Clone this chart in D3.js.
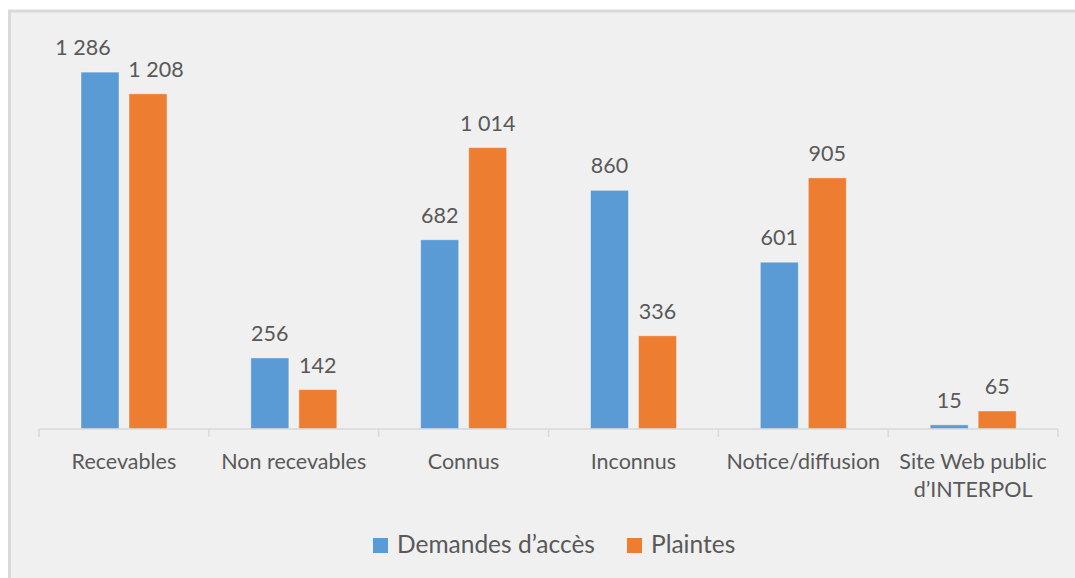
<!DOCTYPE html>
<html>
<head>
<meta charset="utf-8">
<script src="https://cdn.jsdelivr.net/npm/d3@7"></script>
<style>
  html, body { margin: 0; padding: 0; background: #ffffff; }
  svg { display: block; }
  text { font-family: Lato, "Noto Sans", sans-serif; fill: #595959; }
</style>
</head>
<body>
<div id="chart"></div>
<script>
// Data.
const categories = ["Recevables", "Non recevables", "Connus", "Inconnus", "Notice/diffusion", "Site Web public\nd\u2019INTERPOL"];
const series = ["Demandes d\u2019acc\u00e8s", "Plaintes"];
const demandes = [1286, 256, 682, 860, 601, 15];
const plaintes = [1208, 142, 1014, 336, 905, 65];
const colors = ["#5B9BD5", "#ED7D31"];

const width = 1075, height = 578;
const fmt = d => d3.format(",")(d).replace(/,/g, " ");

var svg = d3.select("#chart")
    .append("svg")
    .attr("width", width)
    .attr("height", height);

// Chart area with its grey frame.
svg.append("rect")
    .attr("x", 9.5).attr("y", 11)
    .attr("width", width + 10).attr("height", height + 10)
    .attr("fill", "#F0F0F0")
    .attr("stroke", "#D9D9D9")
    .attr("stroke-width", 3);

var xScale = d3.scaleBand()
    .domain(categories)
    .range([39, 1058])
    .padding(0);

// Position of the two bars inside one category.
var x1 = d3.scaleBand()
    .domain(series)
    .range([42, 128])
    .paddingInner(10 / 48);

var yScale = d3.scaleLinear()
    .domain([0, 1400])
    .range([429, 40.5]);

var rows = categories.map((c, i) => ({cat: c, vals: [demandes[i], plaintes[i]]}));

// Bars.
var groups = svg.append("g").selectAll("g")
    .data(rows)
    .enter().append("g")
    .attr("transform", d => "translate(" + xScale(d.cat) + ",0)");

groups.selectAll("rect")
    .data(d => d.vals.map((v, j) => ({s: series[j], v: v, j: j})))
    .enter().append("rect")
    .attr("x", d => x1(d.s))
    .attr("y", d => yScale(d.v))
    .attr("width", x1.bandwidth())
    .attr("height", d => yScale(0) - yScale(d.v))
    .attr("fill", d => colors[d.j])
    .attr("stroke", "#ffffff")
    .attr("stroke-opacity", 0.4)
    .attr("stroke-width", 1);

// Value labels; the first group's labels were pulled apart by hand in the original.
const labelNudge = {"Recevables": [-17, 8]};
groups.selectAll("text.val")
    .data(d => d.vals.map((v, j) => ({s: series[j], v: v, j: j, cat: d.cat})))
    .enter().append("text")
    .attr("class", "val")
    .attr("x", d => x1(d.s) + x1.bandwidth() / 2 + (labelNudge[d.cat] ? labelNudge[d.cat][d.j] : 0))
    .attr("y", d => yScale(d.v) - 17)
    .attr("text-anchor", "middle")
    .style("font-size", "21.5px")
    .text(d => fmt(d.v));

// X axis.
var xAxis = svg.append("g")
    .attr("transform", "translate(0," + yScale(0) + ")");

xAxis.append("line")
    .attr("x1", xScale.range()[0]).attr("x2", xScale.range()[1])
    .attr("stroke", "#D9D9D9").attr("stroke-width", 1.5);

xAxis.selectAll("line.tick")
    .data(categories.concat([null]))
    .enter().append("line")
    .attr("class", "tick")
    .attr("x1", (d, i) => xScale.range()[0] + i * xScale.step())
    .attr("x2", (d, i) => xScale.range()[0] + i * xScale.step())
    .attr("y1", 0).attr("y2", 8)
    .attr("stroke", "#D9D9D9").attr("stroke-width", 1.5);

var catLabels = xAxis.selectAll("text.cat")
    .data(categories)
    .enter().append("text")
    .attr("class", "cat")
    .attr("text-anchor", "middle")
    .attr("transform", d => "translate(" + (xScale(d) + xScale.bandwidth() / 2) + ",40)")
    .style("font-size", "21.5px");

catLabels.selectAll("tspan")
    .data(d => d.split("\n"))
    .enter().append("tspan")
    .attr("x", 0)
    .attr("dy", (d, i) => i === 0 ? 0 : 28)
    .text(d => d);

// Legend.
var legend = svg.append("g")
    .attr("transform", "translate(373,538)");

var items = legend.selectAll("g")
    .data(series)
    .enter().append("g")
    .attr("transform", (d, i) => "translate(" + (i * 254) + ",0)");

items.append("rect")
    .attr("width", 15).attr("height", 15)
    .attr("fill", (d, i) => colors[i]);

items.append("text")
    .attr("x", 24)
    .attr("y", 15)
    .style("font-size", "24.5px")
    .text(d => d);
</script>
</body>
</html>
